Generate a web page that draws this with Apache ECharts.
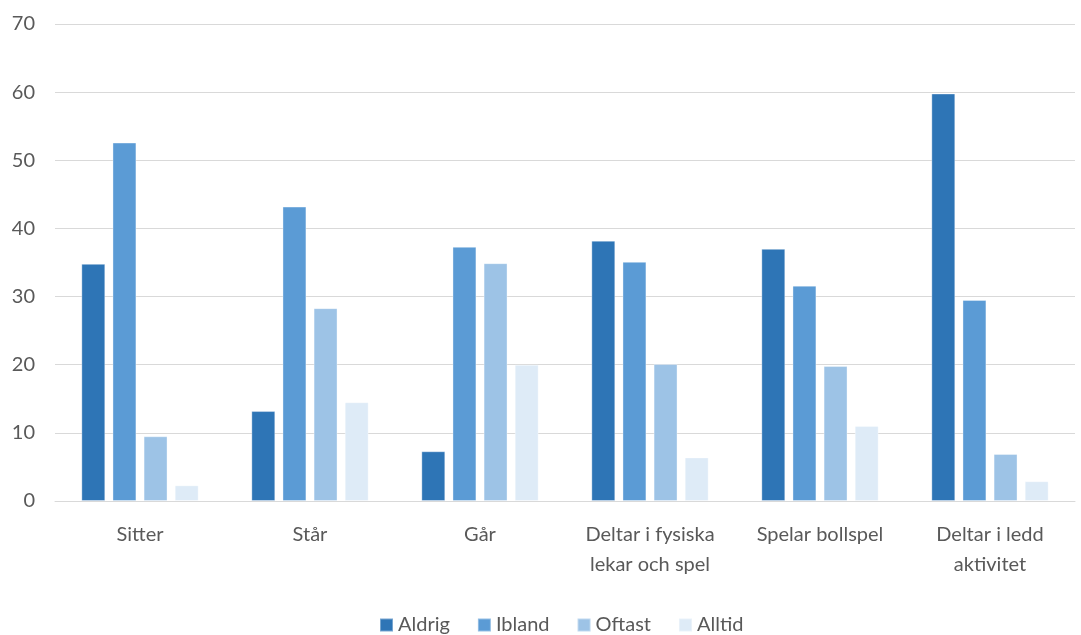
<!DOCTYPE html>
<html>
<head>
<meta charset="utf-8">
<script src="https://cdn.jsdelivr.net/npm/echarts@6/dist/echarts.min.js"></script>
<style>
  html, body { margin: 0; padding: 0; background: #ffffff; }
  #chart { width: 1081px; height: 635px; }
</style>
</head>
<body>
<div id="chart"></div>
<script>
// Activity categories along the x axis
const categories = ['Sitter', 'Står', 'Går', 'Deltar i fysiska\nlekar och spel', 'Spelar bollspel', 'Deltar i ledd\naktivitet'];

// Response frequencies (percent)
const aldrig = [34.8, 13.2, 7.3, 38.2, 37.0, 59.8];
const ibland = [52.6, 43.2, 37.3, 35.1, 31.6, 29.5];
const oftast = [9.5, 28.3, 34.9, 20.1, 19.8, 6.9];
const alltid = [2.3, 14.5, 20.0, 6.4, 11.0, 2.9];

const seriesNames = ['Aldrig', 'Ibland', 'Oftast', 'Alltid'];
const seriesValues = [aldrig, ibland, oftast, alltid];
const seriesColors = ['#2E75B6', '#5B9BD5', '#9DC3E6', '#DEEBF7'];

const FONT = 'Lato';
const TEXT = '#595959';

const chart = echarts.init(document.getElementById('chart'), null, { renderer: 'canvas' });

chart.setOption({
  animation: false,
  color: seriesColors,
  textStyle: { fontFamily: FONT },
  grid: { left: 55, right: 6, top: 24, bottom: 134, containLabel: false },
  legend: {
    data: seriesNames,
    top: 610,
    left: 374,
    itemWidth: 13,
    itemHeight: 13,
    itemGap: 27,
    icon: 'rect',
    textStyle: { color: TEXT, fontSize: 20, fontFamily: FONT }
  },
  xAxis: {
    type: 'category',
    data: categories,
    axisLine: { show: true, lineStyle: { color: '#d9d9d9', width: 1 } },
    axisTick: { show: false },
    axisLabel: { color: TEXT, fontSize: 20, fontFamily: FONT, margin: 19, lineHeight: 30, interval: 0 }
  },
  yAxis: {
    type: 'value',
    min: 0,
    max: 70,
    interval: 10,
    axisLine: { show: false },
    axisTick: { show: false },
    splitLine: { lineStyle: { color: '#d9d9d9', width: 1 } },
    axisLabel: { color: TEXT, fontSize: 20, fontFamily: FONT, margin: 20 }
  },
  series: seriesNames.map((name, i) => ({
    name: name,
    type: 'bar',
    data: seriesValues[i],
    barGap: '30%',
    barCategoryGap: '31%',
    itemStyle: { color: seriesColors[i], borderColor: 'rgba(255,255,255,0.35)', borderWidth: 1 }
  }))
});
</script>
</body>
</html>
